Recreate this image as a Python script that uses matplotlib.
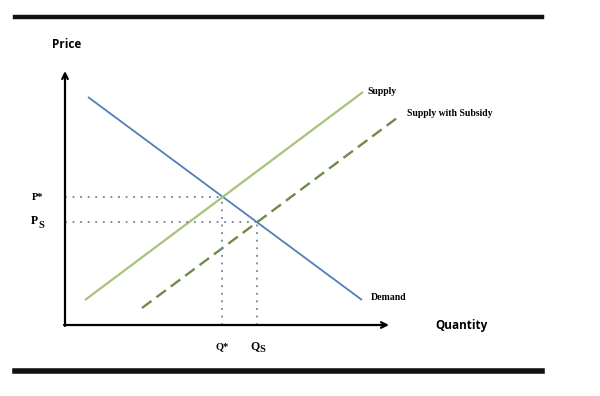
import matplotlib
matplotlib.use("Agg")
import matplotlib.pyplot as plt
from matplotlib.lines import Line2D

# Curve endpoints in chart units (origin at axes corner)
demand_x = [23, 297]
demand_y = [228, 25]
supply_x = [20, 298]
supply_y = [25, 233]
subsidy_x = [77, 332]
subsidy_y = [17, 207]

# Equilibria
q_star, p_star = 157, 128
q_s, p_s = 192, 103

curve_labels = ["Supply", "Supply with Subsidy", "Demand"]

fig = plt.figure(figsize=(6.0, 3.96), dpi=100)
ax = fig.add_axes([65/600, 71/396, 480/600, 305/396])
ax.set_xlim(0, 480)
ax.set_ylim(0, 305)
ax.axis('off')

blue = '#4f7fb8'
green = '#a6c27c'
dgreen = '#6f8a4c'
dot = '#6d8299'

ax.plot(demand_x, demand_y, color=blue, lw=1.3, solid_capstyle='butt')
ax.plot(supply_x, supply_y, color=green, lw=1.6, solid_capstyle='butt')
ax.plot(subsidy_x, subsidy_y, color=dgreen, lw=1.7, dashes=(5, 2.6))

# dotted guides
dls = (0, (1, 3.2))
ax.plot([0, q_star], [p_star, p_star], color=dot, lw=1.3, ls=dls)
ax.plot([q_star, q_star], [0, p_star], color=dot, lw=1.3, ls=dls)
ax.plot([0, q_s], [p_s, p_s], color=dot, lw=1.3, ls=dls)
ax.plot([q_s, q_s], [0, p_s], color=dot, lw=1.3, ls=dls)

# axes arrows
ax.annotate('', xy=(0, 254), xytext=(0, -1),
            arrowprops=dict(arrowstyle='->', color='black', lw=1.6, shrinkA=0, shrinkB=0))
ax.annotate('', xy=(324, 0), xytext=(-1, 0),
            arrowprops=dict(arrowstyle='->', color='black', lw=1.6, shrinkA=0, shrinkB=0))
ax.annotate('', xy=(-3, -1), xytext=(3, 0),
            arrowprops=dict(arrowstyle='->', color='black', lw=1.6, shrinkA=0, shrinkB=0))

serif = dict(family='Liberation Serif', weight='bold', fontsize=7)
ax.text(supply_x[1] + 4, supply_y[1], curve_labels[0], ha='left', va='center', **serif)
ax.text(subsidy_x[1] + 10, subsidy_y[1] + 5, curve_labels[1], ha='left', va='center', **serif)
ax.text(demand_x[1] + 9, demand_y[1] + 2, curve_labels[2], ha='left', va='center', **serif)

lab = dict(family='Liberation Serif', weight='bold', fontsize=7.5)
big = dict(family='Liberation Serif', weight='bold', fontsize=8.5)
sub = dict(family='Liberation Serif', weight='bold', fontsize=7.5)
ax.text(-33, p_star, 'P*', ha='left', va='center', **lab)
ax.text(-34, p_s + 1, 'P', ha='left', va='center', **big)
ax.text(-27, p_s - 4, 'S', ha='left', va='center', **sub)
ax.text(q_star, -22, 'Q*', ha='center', va='center', **lab)
ax.text(q_s - 2, -21, 'Q', ha='center', va='center', **big)
ax.text(q_s + 5, -25, 'S', ha='center', va='center', **sub)

ax.text(-13, 281, 'Price', ha='left', va='center', family='Open Sans', weight='bold', fontsize=8.5)
ax.text(370, 0, 'Quantity', ha='left', va='center', family='Open Sans', weight='bold', fontsize=8.5)

# horizontal rules
fig.add_artist(Line2D([15/600, 542/600], [1 - 17/396, 1 - 17/396], color='#111111', lw=3.2))
fig.add_artist(Line2D([15/600, 542/600], [1 - 371/396, 1 - 371/396], color='#111111', lw=4))

fig.savefig('out.png', dpi=100)
